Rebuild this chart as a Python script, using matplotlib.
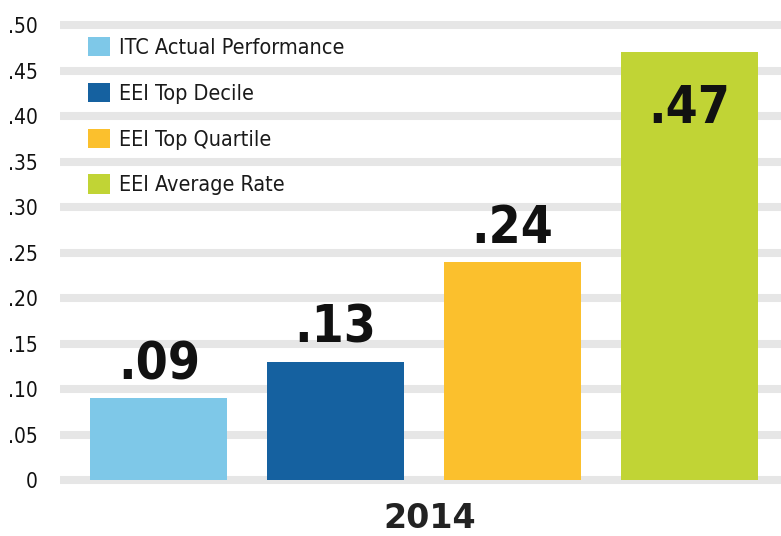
import matplotlib
matplotlib.use("Agg")
import matplotlib.pyplot as plt
from matplotlib.patches import Patch
import numpy as np

series = ["ITC Actual Performance", "EEI Top Decile", "EEI Top Quartile", "EEI Average Rate"]
values = [0.09, 0.13, 0.24, 0.47]
colors = ["#7ec8e8", "#1561a0", "#fbc02d", "#c1d435"]
year = "2014"
yticks = [0, 0.05, 0.10, 0.15, 0.20, 0.25, 0.30, 0.35, 0.40, 0.45, 0.50]
ytick_labels = ["0", ".05", ".10", ".15", ".20", ".25", ".30", ".35", ".40", ".45", ".50"]

fig = plt.figure(figsize=(7.81, 5.36), dpi=100)
ax = fig.add_axes([0.0768, 0.0942, 0.9232, 0.876])

x = np.arange(len(values))
for yt in yticks:
    ax.axhline(yt, color="#e6e6e6", lw=5.8, zorder=0, solid_capstyle="butt")

ax.bar(x, values, width=0.775, color=colors, zorder=2)

# value labels: above the bar, inside the tallest one
for xi, v in zip(x, values):
    lab = f"{v:.2f}".lstrip("0")
    y = v - 0.078 if v > 0.4 else v + 0.021
    ax.text(xi, y, lab, ha="center", va="baseline", fontsize=37,
            fontweight="bold", fontstretch="condensed", color="#111111", zorder=3)

ax.set_xlim(-0.56, 3.52)
ax.set_ylim(-0.006, 0.51)
ax.set_yticks(yticks)
ax.set_yticklabels(ytick_labels, fontsize=15, fontstretch="condensed", color="#111111")
ax.tick_params(axis="y", length=0, pad=16)
ax.set_xticks([1.53])
ax.set_xticklabels([year], fontsize=24, fontweight="bold", color="#222222")
ax.tick_params(axis="x", length=0, pad=12)
for s in ax.spines.values():
    s.set_visible(False)

handles = [Patch(facecolor=c, edgecolor="none") for c in colors]
leg = ax.legend(handles, series, loc="upper left", bbox_to_anchor=(0.113, 0.931),
                bbox_transform=fig.transFigure, frameon=False,
                prop={"size": 15.5, "stretch": "condensed"}, handlelength=1.0,
                handleheight=1.0, handletextpad=0.45, labelspacing=1.15,
                borderaxespad=0, borderpad=0)
for t in leg.get_texts():
    t.set_color("#1a1a1a")

fig.savefig("out.png", dpi=100)
